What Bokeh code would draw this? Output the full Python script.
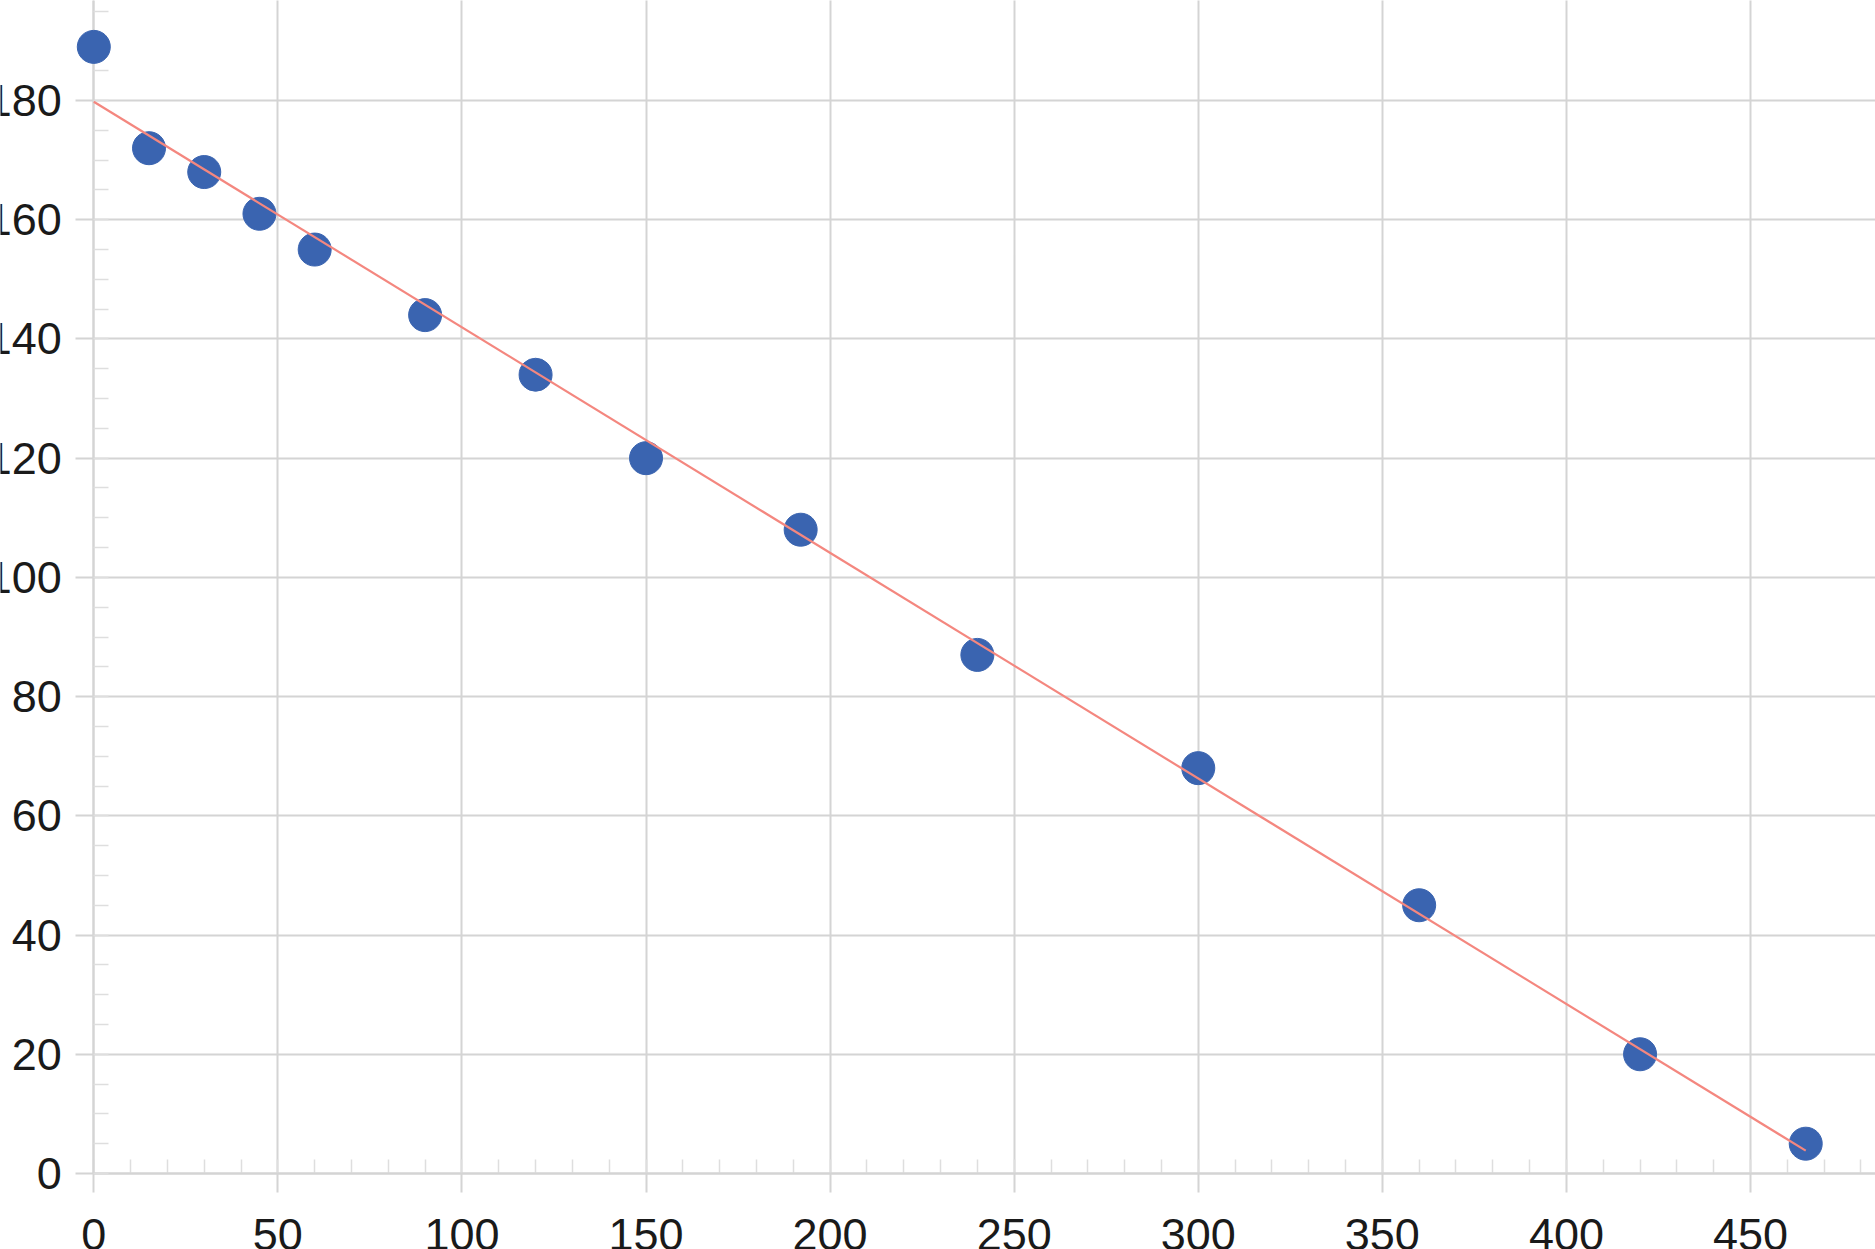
import numpy as np
from bokeh.plotting import figure
from bokeh.models import Range1d, SingleIntervalTicker
from bokeh.embed import file_html
from bokeh.resources import INLINE

# data
x_vals = [0, 15, 30, 45, 60, 90, 120, 150, 192, 240, 300, 360, 420, 465]
y_vals = [189, 172, 168, 161, 155, 144, 134, 120, 108, 87, 68, 45, 20, 5]
x_tick_step = 50
y_tick_step = 20

GRID = "#d4d4d4"
MINOR = "#dedede"
DOT = "#3a64b0"
FIT = "#f4877f"
FONT = "Liberation Sans"

p = figure(width=1875, height=1249,
           x_range=Range1d(-25.34, 483.95), y_range=Range1d(-12.75, 196.78),
           output_backend="svg", toolbar_location=None,
           min_border=0, outline_line_color=None,
           background_fill_color="white", border_fill_color="white")
p.grid.visible = False

xa = p.xaxis[0]
xa.ticker = SingleIntervalTicker(interval=x_tick_step, num_minor_ticks=5)
xa.fixed_location = 0
xa.bounds = (0, 500)
xa.level = "underlay"
xa.axis_line_color = GRID
xa.axis_line_width = 2
xa.major_tick_in = 1300
xa.major_tick_out = 19
xa.major_tick_line_color = GRID
xa.major_tick_line_width = 2
xa.minor_tick_in = 14
xa.minor_tick_out = 0
xa.minor_tick_line_color = MINOR
xa.minor_tick_line_width = 1.5
xa.major_label_text_font = FONT
xa.major_label_text_font_size = "45px"
xa.major_label_text_color = "#1a1a1a"
xa.major_label_standoff = 27

ya = p.yaxis[0]
ya.ticker = SingleIntervalTicker(interval=y_tick_step, num_minor_ticks=4)
ya.fixed_location = 0
ya.bounds = (0, 200)
ya.level = "underlay"
ya.axis_line_color = GRID
ya.axis_line_width = 2
ya.major_tick_in = 1900
ya.major_tick_out = 18
ya.major_tick_line_color = GRID
ya.major_tick_line_width = 2
ya.minor_tick_in = 15
ya.minor_tick_out = 0
ya.minor_tick_line_color = MINOR
ya.minor_tick_line_width = 1.5
ya.major_label_text_font = FONT
ya.major_label_text_font_size = "45px"
ya.major_label_text_color = "#1a1a1a"
ya.major_label_standoff = 14

xs = np.array(x_vals, dtype=float)
ys = np.array(y_vals, dtype=float)
slope, intercept = np.polyfit(xs, ys, 1)
fit_x = [xs.min(), xs.max()]
fit_y = [intercept + slope * v for v in fit_x]

p.scatter(x_vals, y_vals, size=33, fill_color=DOT, line_color=DOT, line_width=1)
p.line(fit_x, fit_y, line_color=FIT, line_width=2.2)

open("out.html", "w").write(file_html(p, INLINE))
